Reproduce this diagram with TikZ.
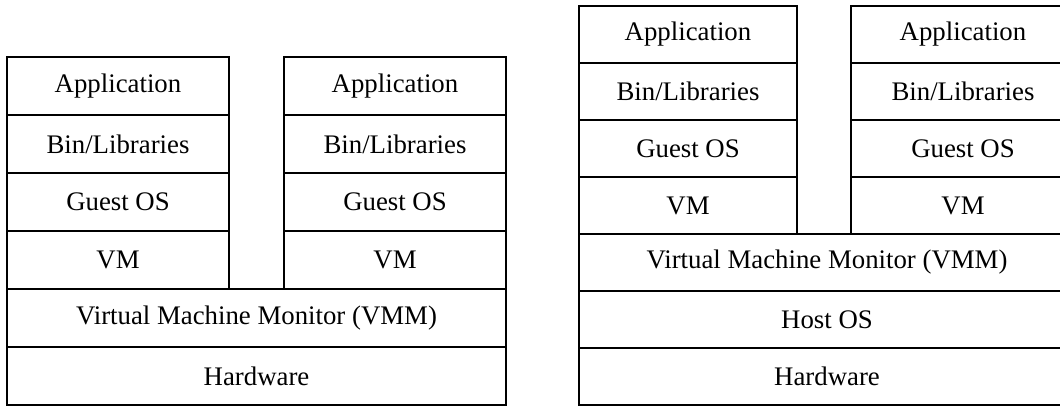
\documentclass[tikz,border=0pt]{standalone}
\usepackage{fontspec}
\setmainfont{Liberation Serif}
\begin{document}
\begin{tikzpicture}[x=1pt,y=-1pt,
  cell/.style={draw=black, line width=1.6pt, inner sep=0pt, font=\fontsize{26.8}{30}\selectfont, text=black},
  lcol/.style={cell, minimum width=222pt, minimum height=58pt},
  lwide/.style={cell, minimum width=499pt, minimum height=58pt},
  rcol/.style={cell, minimum width=218pt, minimum height=57pt},
  rcolb/.style={cell, minimum width=224pt, minimum height=57pt},
  rwide/.style={cell, minimum width=496pt, minimum height=57pt}]
\useasboundingbox (0,0) rectangle (1060,406);
% left diagram
\node[lcol] (la1) at (118,86) {Application};
\node[lcol] (lb1) at (118,144) {Bin/Libraries};
\node[lcol] (lg1) at (118,202) {Guest OS};
\node[lcol] (lv1) at (118,260) {VM};
\node[lcol] (la2) at (395,86) {Application};
\node[lcol] (lb2) at (395,144) {Bin/Libraries};
\node[lcol] (lg2) at (395,202) {Guest OS};
\node[lcol] (lv2) at (395,260) {VM};
\node[lwide] (lvmm) at (256.5,318) {Virtual Machine Monitor (VMM)};
\node[lwide] (lhw) at (256.5,376) {Hardware};
% right diagram
\node[rcol] (ra1) at (688,34.5) {Application};
\node[rcol] (rb1) at (688,91.5) {Bin/Libraries};
\node[rcol] (rg1) at (688,148.5) {Guest OS};
\node[rcol] (rv1) at (688,205.5) {VM};
\node[rcolb] (ra2) at (963,34.5) {Application};
\node[rcolb] (rb2) at (963,91.5) {Bin/Libraries};
\node[rcolb] (rg2) at (963,148.5) {Guest OS};
\node[rcolb] (rv2) at (963,205.5) {VM};
\node[rwide] (rvmm) at (827,262.5) {Virtual Machine Monitor (VMM)};
\node[rwide] (rhost) at (827,319.5) {Host OS};
\node[rwide] (rhw) at (827,376.5) {Hardware};
\end{tikzpicture}
\end{document}
